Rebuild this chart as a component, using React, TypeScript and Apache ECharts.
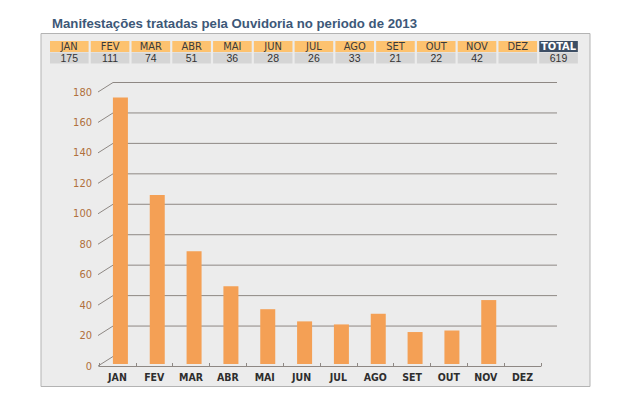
import React, { useEffect, useRef } from "react";
import * as echarts from "echarts";

const months = ["JAN", "FEV", "MAR", "ABR", "MAI", "JUN", "JUL", "AGO", "SET", "OUT", "NOV", "DEZ"];
const values: (number | null)[] = [175, 111, 74, 51, 36, 28, 26, 33, 21, 22, 42, null];
const yTicks = [0, 20, 40, 60, 80, 100, 120, 140, 160, 180];
const totalLabel = "TOTAL";
const titleText = "Manifestações tratadas pela Ouvidoria no periodo de 2013";

const NARROW = '"Liberation Sans Narrow", "DejaVu Sans Condensed", "Arial Narrow", sans-serif';
const GRID_COLOR = "#8e8884";

export default function App() {
  const ref = useRef<HTMLDivElement>(null);
  useEffect(() => {
    if (!ref.current) return;
    const chart = echarts.init(ref.current, null, { renderer: "svg" });
    const total = values.reduce((s: number, v) => s + (v ?? 0), 0);

    const headerX0 = 50;
    const pitch = 40.77;
    const cellW = 38.6;
    const headerEls: any[] = [];
    const cols = [...months, totalLabel];
    cols.forEach((m, i) => {
      const x = headerX0 + i * pitch;
      const isTotal = i === months.length;
      headerEls.push({
        type: "rect",
        shape: { x, y: 41, width: cellW, height: 11 },
        style: { fill: isTotal ? "#3d4e64" : "#fdc26f" },
        silent: true,
      });
      headerEls.push({
        type: "rect",
        shape: { x, y: 52.5, width: cellW, height: 11 },
        style: { fill: "#d5d5d5" },
        silent: true,
      });
      headerEls.push({
        type: "text",
        style: {
          text: m,
          x: x + cellW / 2,
          y: 46.8,
          fill: isTotal ? "#ffffff" : "#3a3a3a",
          font: `${isTotal ? "bold " : ""}11px ${NARROW}`,
          align: "center",
          verticalAlign: "middle",
          textAlign: "center",
          textVerticalAlign: "middle",
        },
        silent: true,
      });
      const v = isTotal ? total : values[i];
      headerEls.push({
        type: "text",
        style: {
          text: v == null ? "" : String(v),
          x: x + cellW / 2,
          y: 58.3,
          fill: "#333333",
          font: `10.5px "Liberation Sans", Arial, sans-serif`,
          align: "center",
          verticalAlign: "middle",
          textAlign: "center",
          textVerticalAlign: "middle",
        },
        silent: true,
      });
    });

    chart.setOption({
      animation: false,
      backgroundColor: "#ffffff",
      graphic: [
        {
          type: "rect",
          z: -10,
          shape: { x: 41, y: 33.5, width: 549, height: 353 },
          style: { fill: "#ececec", stroke: "#b3b3b3", lineWidth: 1 },
          silent: true,
        },
        {
          type: "text",
          style: {
            text: titleText,
            x: 52,
            y: 23,
            fill: "#3d5878",
            font: `bold 13.2px "Liberation Sans", Arial, sans-serif`,
            align: "left",
            verticalAlign: "middle",
            textAlign: "left",
            textVerticalAlign: "middle",
          },
          silent: true,
        },
        ...headerEls,
      ],
      grid: [
        { left: 99, right: 103, top: 92, bottom: 28 },
        { left: 102, right: 100, top: 90, bottom: 30 },
      ],
      xAxis: [
        {
          type: "category",
          gridIndex: 0,
          data: months,
          axisLine: { lineStyle: { color: GRID_COLOR, width: 1 } },
          axisTick: { show: true, inside: true, length: 3, lineStyle: { color: GRID_COLOR } },
          axisLabel: {
            interval: 0,
            margin: 5,
            color: "#2e2e2e",
            fontSize: 10.5,
            fontFamily: NARROW,
            fontWeight: "bold",
          },
        },
        {
          type: "category",
          gridIndex: 1,
          data: months,
          show: false,
        },
      ],
      yAxis: [
        {
          type: "value",
          gridIndex: 0,
          min: 0,
          max: 180,
          interval: 20,
          axisLine: { show: false },
          axisTick: { show: false },
          splitLine: { show: false },
          axisLabel: {
            margin: 7,
            color: "#b0703d",
            fontSize: 11,
            fontFamily: NARROW,
          },
        },
        {
          type: "value",
          gridIndex: 1,
          min: 0,
          max: 180,
          interval: 20,
          show: false,
          splitLine: { show: false },
        },
      ],
      series: [
        {
          type: "custom",
          xAxisIndex: 0,
          yAxisIndex: 0,
          z: 1,
          silent: true,
          data: yTicks.map((v) => [0, v]),
          encode: { x: 0, y: 1 },
          renderItem: (params: any, api: any) => {
            const v = api.value(1);
            const y = api.coord([0, v])[1];
            const cs = params.coordSys;
            const x0 = cs.x - 1;
            const x1 = x0 + 15;
            const dy = 9.5;
            const children: any[] = [
              {
                type: "line",
                shape: { x1: x0, y1: y, x2: x1, y2: y - dy },
                style: { stroke: GRID_COLOR, lineWidth: 1 },
              },
            ];
            if (v !== 0) {
              children.push({
                type: "line",
                shape: { x1: x1, y1: y - dy, x2: 557, y2: y - dy },
                style: { stroke: GRID_COLOR, lineWidth: 1 },
              });
            }
            return { type: "group", children };
          },
        },
        {
          type: "bar",
          xAxisIndex: 1,
          yAxisIndex: 1,
          z: 3,
          data: values,
          barWidth: 15,
          itemStyle: { color: "#f4a055" },
        },
      ],
    });
    return () => chart.dispose();
  }, []);
  return <div ref={ref} style={{ position: "fixed", left: 0, top: 0, width: 644, height: 394 }} />;
}
